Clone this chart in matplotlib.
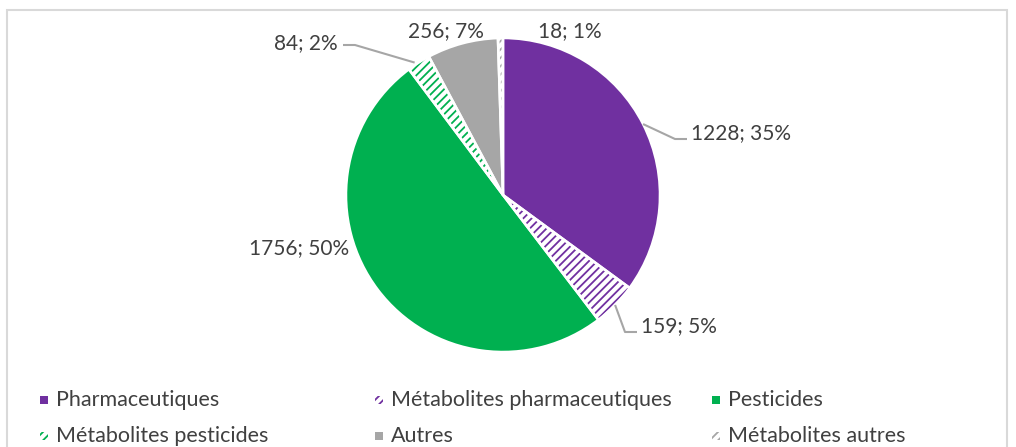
import numpy as np
import matplotlib
matplotlib.use("Agg")
from matplotlib import pyplot as plt
from matplotlib.patches import Rectangle

categories = ["Pharmaceutiques", "Métabolites pharmaceutiques", "Pesticides",
              "Métabolites pesticides", "Autres", "Métabolites autres"]
values = [1228, 159, 1756, 84, 256, 18]
percent_labels = ["35%", "5%", "50%", "2%", "7%", "1%"]

colors = ["#7030A0", "#7030A0", "#00B050", "#00B050", "#A6A6A6", "#A6A6A6"]
hatched = [False, True, False, True, False, True]

plt.rcParams["font.family"] = ["Lato", "DejaVu Sans"]
plt.rcParams["hatch.linewidth"] = 1.3
text_color = "#404040"
line_color = "#A6A6A6"
fsize = 15

W, H = 1016, 447
fig = plt.figure(figsize=(W / 100, H / 100), dpi=100)
ax = fig.add_axes([0, 0, 1, 1])

cx, cy, r = 503, H - 195, 157
wedges, _ = ax.pie(values, colors=colors, startangle=90, counterclock=False,
                   center=(cx, cy), radius=r,
                   wedgeprops=dict(linewidth=0))
for w, c, h in zip(wedges, colors, hatched):
    if h:
        w.set_facecolor("white")
        w.set_edgecolor(c)
        w.set_hatch("////")
        w.set_linewidth(0)

# white separators between slices
ax.pie(values, startangle=90, counterclock=False, center=(cx, cy), radius=r,
       wedgeprops=dict(fill=False, edgecolor="white", linewidth=1.8))

# data labels: (text x, text y in image px, ha, leader?)
label_layout = [
    (691, 133, "left", True),
    (641, 326, "left", True),
    (299, 248, "center", False),
    (338, 43, "right", True),
    (446, 31, "center", False),
    (570, 31, "center", False),
]

angles = []
start = 90.0
total = float(sum(values))
for v in values:
    span = 360.0 * v / total
    angles.append(start - span / 2)
    start -= span

for v, p, ang, (tx, ty, ha, leader) in zip(values, percent_labels, angles, label_layout):
    ax.text(tx, H - ty, f"{v}; {p}", ha=ha, va="center", fontsize=fsize,
            color=text_color)
    if leader:
        ex = cx + r * np.cos(np.radians(ang))
        ey = cy + r * np.sin(np.radians(ang))
        ly = H - ty - 6 if ha == "left" else H - ty - 2
        if ha == "left":
            xs = [ex, tx - 16, tx - 4]
        else:
            xs = [ex - 4, tx + 17, tx + 5]
        ys = [ey, ly, ly]
        ax.plot(xs, ys, color=line_color, lw=1.5, solid_capstyle="butt")

# legend laid out like the spreadsheet one: three equal columns, two rows
leg_cols = [40, 375, 712]
leg_rows = [400, 436]
for i, (name, c, h) in enumerate(zip(categories, colors, hatched)):
    x0 = leg_cols[i % 3]
    y0 = leg_rows[i // 3]
    if h:
        sq = Rectangle((x0, H - y0 - 4), 8, 8, facecolor="white", edgecolor=c,
                       hatch="////", linewidth=0)
    else:
        sq = Rectangle((x0, H - y0 - 4), 8, 8, facecolor=c, linewidth=0)
    ax.add_patch(sq)
    ax.text(x0 + 16, H - y0, name, ha="left", va="center", fontsize=fsize + 0.5,
            color=text_color)

# chart area border
ax.add_patch(Rectangle((6.5, -20), 1000, H - 9.5 + 20, fill=False,
                       edgecolor="#D9D9D9", linewidth=1.5))

ax.set_xlim(0, W)
ax.set_ylim(0, H)
ax.set_aspect("auto")
ax.axis("off")

fig.savefig("out.png", dpi=100)
